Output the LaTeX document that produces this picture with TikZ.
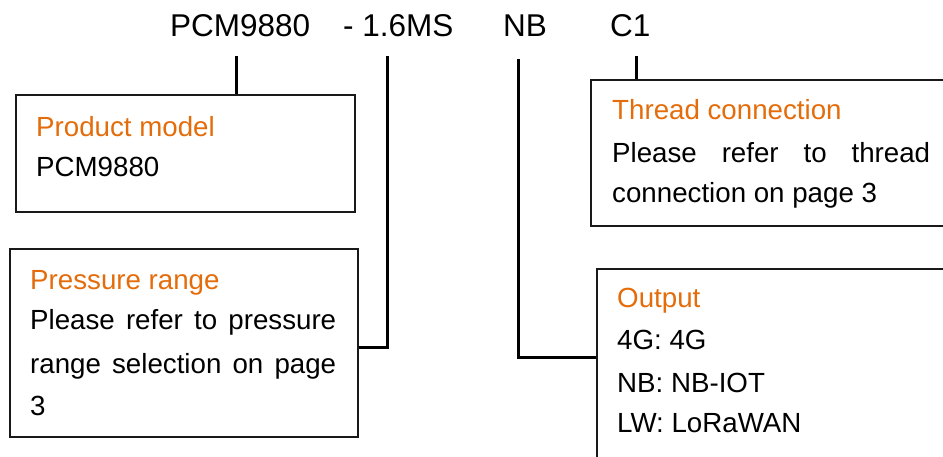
\documentclass[tikz,border=0pt]{standalone}
\usepackage{fontspec}
\setmainfont{Liberation Sans}
\definecolor{hdr}{RGB}{228,108,10}
\begin{document}
\begin{tikzpicture}[x=1pt,y=-1pt,
  box/.style={draw=black!90, line width=1.8pt, anchor=north west, inner sep=0pt},
  conn/.style={line width=3pt},
  body/.style={anchor=base west, inner sep=0pt, font=\fontsize{27.7}{32}\selectfont},
  head/.style={body, text=hdr},
  code/.style={anchor=base west, inner sep=0pt, font=\fontsize{31.5}{36}\selectfont}]
\useasboundingbox (0,0) rectangle (943,457);
\clip (0,0) rectangle (943,457);
% code labels
\node[code] (pcm) at (170,37) {PCM9880};
\node[code] (rng) at (343,37) {- 1.6MS};
\node[code] (nb)  at (503,37) {NB};
\node[code] (c1)  at (610,37) {C1};
% boxes
\node[box, minimum width=339pt, minimum height=117pt] (b1) at (15,94) {};
\node[box, minimum width=348pt, minimum height=188pt] (b2) at (9,248) {};
\node[box, minimum width=380pt, minimum height=146pt] (b3) at (590,79) {};
\node[box, minimum width=380pt, minimum height=220pt] (b4) at (596,268) {};
% texts
\node[head] (h1) at (36,137) {Product model};
\node[body] (t1) at (36,177) {PCM9880};
\node[head] (h2) at (30,290) {Pressure range};
\node[body] (t2a) at (30,330) {\makebox[306pt][s]{Please refer to pressure}};
\node[body] (t2b) at (30,373) {\makebox[306pt][s]{range selection on page}};
\node[body] (t2c) at (30,415) {3};
\node[head] (h3) at (612,120) {Thread connection};
\node[body] (t3a) at (612,163) {\makebox[318pt][s]{Please refer to thread}};
\node[body] (t3b) at (612,203) {connection on page 3};
\node[head] (h4) at (617,308) {Output};
\node[body] (t4a) at (617,349) {4G: 4G};
\node[body] (t4b) at (617,392) {NB: NB-IOT};
\node[body] (t4c) at (617,432) {LW: LoRaWAN};
% connectors
\coordinate (k1) at (236,56);
\coordinate (k2) at (387,56);
\coordinate (k3) at (518,59);
\coordinate (k4) at (636,56);
\draw[conn] (k1) -- (k1 |- b1.north);
\draw[conn] (k4) -- (k4 |- b3.north);
\draw[conn] (k2) |- ([yshift=-5pt]b2.east);
\draw[conn] (k3) |- ([yshift=-89pt]b4.north west);
\end{tikzpicture}
\end{document}
